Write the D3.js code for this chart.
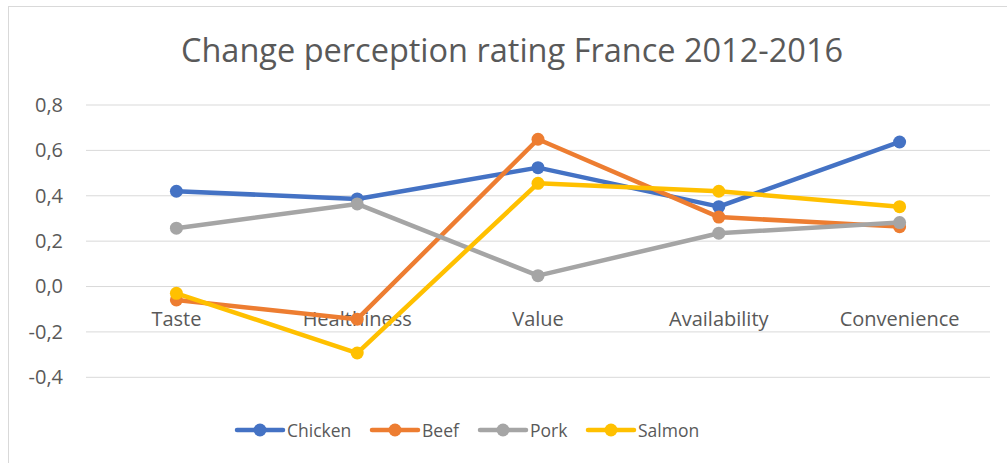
<!DOCTYPE html>
<meta charset="utf-8">
<html>
<head>
  <title>Change perception rating</title>
  <style>
    body { margin: 0; background: #fff; }
    text { font-family: "Open Sans", "Liberation Sans", sans-serif; fill: #595959; }
  </style>
</head>
<body>
<div id="chart"></div>
<script src="https://d3js.org/d3.v7.min.js"></script>
<script>

    // data
    var categories = ["Taste", "Healthiness", "Value", "Availability", "Convenience"];
    var seriesNames = ["Chicken", "Beef", "Pork", "Salmon"];
    var chicken = [0.42, 0.386, 0.524, 0.352, 0.637];
    var beef    = [-0.059, -0.144, 0.649, 0.306, 0.264];
    var pork    = [0.257, 0.364, 0.048, 0.235, 0.282];
    var salmon  = [-0.03, -0.293, 0.455, 0.42, 0.352];
    var yTicks  = [-0.4, -0.2, 0, 0.2, 0.4, 0.6, 0.8];
    var colors  = ["#4472c4", "#ed7d31", "#a5a5a5", "#ffc000"];

    var allSeries = [chicken, beef, pork, salmon];

    var width = 1007, height = 463;

    var svg = d3.select("#chart")
      .append("svg")
        .attr("width", width)
        .attr("height", height);

    // chart frame
    svg.append("rect")
      .attr("x", 8.5).attr("y", 6.5)
      .attr("width", width).attr("height", height)
      .attr("fill", "none")
      .attr("stroke", "#d9d9d9");

    // title
    svg.append("text")
      .attr("x", 512).attr("y", 62)
      .attr("text-anchor", "middle")
      .style("font-size", "32.5px")
      .text("Change perception rating France 2012-2016");

    var x = d3.scalePoint()
      .domain(categories)
      .range([86, 990])
      .padding(0.5);

    var y = d3.scaleLinear()
      .domain([-0.4, 0.8])
      .range([377.3, 105]);

    var fmt = d3.formatLocale({decimal: ",", thousands: ".", grouping: [3], currency: ["", ""], minus: "-"}).format(".1f");

    // gridlines + y labels
    var yAxis = svg.append("g")
      .call(d3.axisLeft(y).tickValues(yTicks).tickFormat(fmt).tickSize(0).tickPadding(0));
    yAxis.select(".domain").remove();
    yAxis.selectAll("text")
      .attr("x", 63)
      .style("font-size", "20px")
      .style("font-family", "'Open Sans', sans-serif")
      .style("fill", "#595959");

    svg.append("g").selectAll("line")
      .data(yTicks)
      .enter().append("line")
        .attr("x1", 86).attr("x2", 990)
        .attr("y1", function(d) { return y(d); })
        .attr("y2", function(d) { return y(d); })
        .attr("stroke", "#d9d9d9")
        .attr("stroke-width", 1);

    // category labels sit just under the zero line
    svg.append("g").selectAll("text")
      .data(categories)
      .enter().append("text")
        .attr("x", function(d) { return x(d); })
        .attr("y", y(0) + 39)
        .attr("text-anchor", "middle")
        .style("font-size", "20px")
        .text(function(d) { return d; });

    // lines and markers
    var line = d3.line()
      .x(function(d, i) { return x(categories[i]); })
      .y(function(d) { return y(d); });

    allSeries.forEach(function(vals, s) {
      var g = svg.append("g");
      g.append("path")
        .datum(vals)
        .attr("d", line)
        .attr("fill", "none")
        .attr("stroke", colors[s])
        .attr("stroke-width", 4.5)
        .attr("stroke-linejoin", "round");
      g.selectAll("circle")
        .data(vals)
        .enter().append("circle")
          .attr("cx", function(d, i) { return x(categories[i]); })
          .attr("cy", function(d) { return y(d); })
          .attr("r", 6.5)
          .attr("fill", colors[s]);
    });

    // legend
    var legendX = [237, 372, 480, 588];
    var legend = svg.append("g");
    seriesNames.forEach(function(name, s) {
      var lg = legend.append("g").attr("transform", "translate(" + legendX[s] + ",430)");
      lg.append("line")
        .attr("x1", 0).attr("x2", 46)
        .attr("stroke", colors[s]).attr("stroke-width", 4.5)
        .attr("stroke-linecap", "round");
      lg.append("circle").attr("cx", 23).attr("r", 6.5).attr("fill", colors[s]);
      lg.append("text")
        .attr("x", 50).attr("y", 6.5)
        .style("font-size", "17.5px")
        .text(name);
    });

</script>
</body>
</html>
